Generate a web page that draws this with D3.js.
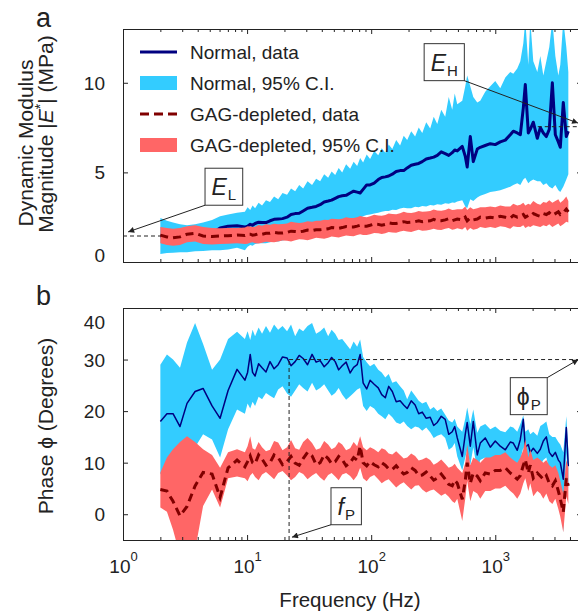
<!DOCTYPE html>
<html>
<head>
<meta charset="utf-8">
<script src="https://d3js.org/d3.v7.min.js"></script>
<style>
  body { margin: 0; background: #fff; }
  svg { display: block; }
</style>
</head>
<body>
<div id="chart"></div>
<script>
// frequency grid (Hz), shared by both panels
var freq = [2, 2.26, 2.53, 2.88, 3.28, 3.81, 4.42, 5.22, 6.06, 7.03,
  8.3, 9.6, 10.09, 10.6, 11.07, 11.6, 12.38, 13.2, 14.2, 15.3,
  16.5, 17.8, 19.3, 21, 22.6, 24.4, 26.3, 28.3, 30.7, 33.4,
  36, 38.8, 41.8, 45, 48, 51.3, 54.7, 58.4, 62.8, 67.7,
  72.2, 77.1, 81.5, 86.1, 92, 98, 105.7, 114, 121.6, 130,
  138.4, 148, 159.1, 171, 182.9, 195, 210.2, 226, 241.6, 258,
  277.7, 299, 319.2, 341, 367, 395, 421.7, 450, 471.3, 494,
  542, 573, 594, 629, 665, 716, 757, 830, 912, 1000,
  1097, 1205, 1321, 1397, 1504, 1592, 1683, 1746, 1846, 1915,
  2025, 2182, 2307, 2440, 2580, 2725, 2884, 3048, 3223, 3342,
  3533, 3737, 3880];

// panel a : |E*| (MPa)
var modNormal = [1.45, 1.4, 1.35, 1.3, 1.4, 1.45, 1.5, 1.6, 1.9, 2.0,
  2.02, 1.95, 2.0, 2.1, 2.05, 2.15, 2.22, 2.2, 2.2, 2.3,
  2.38, 2.4, 2.42, 2.5, 2.65, 2.7, 2.72, 2.85, 3.0, 3.05,
  3.1, 3.2, 3.35, 3.4, 3.45, 3.55, 3.65, 3.7, 3.72, 3.85,
  3.95, 3.9, 3.85, 4.05, 4.3, 4.3, 4.4, 4.6, 4.72, 4.75,
  4.8, 4.9, 5.05, 5.1, 5.1, 5.25, 5.4, 5.45, 5.5, 5.6,
  5.75, 5.8, 5.85, 5.95, 6.15, 6.05, 5.95, 6.1, 6.25, 6.2,
  6.45, 5.9, 5.3, 7.0, 5.6, 6.3, 6.4, 6.5, 6.6, 6.55,
  6.7, 6.8, 7.1, 7.3, 7.2, 7.1, 8.6, 9.9, 7.2, 7.4,
  7.8, 6.9, 7.5, 7.2, 7.0, 7.4, 10.0, 7.1, 6.7, 6.4,
  8.9, 7.0, 7.3];
var modNormalLo = [0.45, 0.5, 0.52, 0.55, 0.55, 0.6, 0.62, 0.65, 0.65, 0.7,
  0.8, 0.65, 0.85, 0.95, 0.9, 1.0, 1.05, 1.05, 1.05, 1.1,
  1.15, 1.15, 1.2, 1.25, 1.3, 1.4, 1.42, 1.5, 1.58, 1.6,
  1.7, 1.75, 1.8, 1.9, 1.95, 2.05, 2.15, 2.2, 2.25, 2.35,
  2.4, 2.45, 2.45, 2.55, 2.62, 2.65, 2.7, 2.75, 2.8, 2.85,
  2.85, 2.92, 2.9, 2.98, 3.02, 3.0, 3.0, 3.08, 3.05, 3.12,
  3.1, 3.18, 3.15, 3.22, 3.2, 3.28, 3.25, 3.32, 3.3, 3.38,
  3.45, 3.1, 3.0, 3.5, 3.4, 3.6, 3.7, 3.8, 3.9, 3.95,
  4.0, 4.1, 4.2, 4.3, 4.4, 4.3, 4.6, 4.7, 4.4, 4.5,
  4.6, 4.5, 4.5, 4.3, 4.4, 4.2, 4.1, 4.3, 4.0, 3.9,
  4.2, 4.6, 4.9];
var modNormalHi = [2.45, 2.3, 2.2, 2.1, 2.05, 2.1, 2.2, 2.35, 2.55, 2.65,
  2.75, 2.8, 3.05, 2.9, 3.15, 3.0, 3.3, 3.15, 3.45, 3.35,
  3.65, 3.5, 3.85, 3.75, 4.1, 3.95, 4.3, 4.1, 4.5, 4.3,
  4.65, 4.5, 4.9, 4.7, 5.05, 4.85, 5.25, 5.0, 5.45, 5.2,
  5.6, 5.35, 5.8, 5.55, 6.0, 5.75, 6.2, 5.95, 6.35, 6.1,
  6.55, 6.3, 6.8, 6.5, 7.05, 6.8, 7.3, 7.0, 7.5, 7.2,
  7.8, 7.45, 8.1, 7.7, 8.5, 8.1, 9.2, 8.5, 9.4, 8.8,
  9.0, 9.8, 10.4, 9.8, 9.2, 8.9, 9.0, 9.5, 9.8, 10.1,
  9.7, 10.3, 10.6, 10.5, 10.8, 11.2, 12.2, 13.5, 11.0, 13.5,
  11.2, 10.6, 11.5, 10.4, 11.2, 12.0, 13.5, 11.5, 10.4, 11.0,
  13.5, 12.0, 10.6];
var modGag = [1.5, 1.4, 1.35, 1.4, 1.55, 1.6, 1.45, 1.42, 1.45, 1.47,
  1.5, 1.48, 1.55, 1.55, 1.5, 1.52, 1.58, 1.55, 1.6, 1.6,
  1.65, 1.62, 1.62, 1.65, 1.72, 1.7, 1.68, 1.72, 1.78, 1.75,
  1.8, 1.8, 1.82, 1.85, 1.92, 1.9, 1.88, 1.92, 1.98, 1.95,
  1.95, 2.0, 2.05, 2.0, 2.0, 2.05, 2.12, 2.1, 2.05, 2.1,
  2.18, 2.15, 2.15, 2.2, 2.25, 2.2, 2.22, 2.25, 2.3, 2.25,
  2.28, 2.3, 2.38, 2.3, 2.3, 2.35, 2.42, 2.3, 2.35, 2.4,
  2.35, 2.5, 2.3, 2.45, 2.35, 2.4, 2.5, 2.45, 2.5, 2.45,
  2.55, 2.5, 2.45, 2.6, 2.5, 2.55, 2.65, 2.5, 2.6, 2.55,
  2.7, 2.6, 2.55, 2.7, 2.65, 2.75, 2.6, 2.7, 2.8, 2.65,
  2.75, 2.95, 2.8];
var modGagLo = [1.05, 0.95, 0.9, 0.95, 1.1, 1.15, 1.0, 0.98, 1.0, 1.02,
  1.05, 1.0, 1.02, 1.08, 1.1, 1.05, 1.03, 1.08, 1.13, 1.12,
  1.1, 1.15, 1.2, 1.18, 1.15, 1.22, 1.27, 1.25, 1.22, 1.28,
  1.35, 1.32, 1.3, 1.36, 1.42, 1.4, 1.37, 1.42, 1.48, 1.45,
  1.44, 1.5, 1.55, 1.5, 1.5, 1.55, 1.62, 1.6, 1.56, 1.6,
  1.68, 1.65, 1.63, 1.7, 1.75, 1.7, 1.68, 1.75, 1.8, 1.75,
  1.76, 1.8, 1.86, 1.8, 1.78, 1.85, 1.9, 1.8, 1.83, 1.88,
  1.82, 1.95, 1.75, 1.9, 1.8, 1.85, 1.95, 1.9, 1.95, 1.9,
  2.0, 1.95, 1.85, 2.0, 1.95, 1.95, 2.05, 1.9, 2.0, 1.95,
  2.05, 2.0, 1.95, 2.05, 2.0, 2.1, 1.95, 2.05, 2.15, 2.0,
  2.1, 2.25, 2.2];
var modGagHi = [1.95, 1.9, 1.85, 1.9, 2.0, 2.05, 1.95, 1.9, 1.88, 1.9,
  1.9, 1.92, 2.0, 1.98, 1.95, 1.97, 2.06, 2.02, 2.1, 2.08,
  2.14, 2.1, 2.12, 2.15, 2.24, 2.2, 2.18, 2.2, 2.28, 2.25,
  2.3, 2.3, 2.36, 2.35, 2.42, 2.4, 2.38, 2.42, 2.5, 2.45,
  2.46, 2.5, 2.56, 2.52, 2.5, 2.55, 2.64, 2.6, 2.58, 2.62,
  2.7, 2.68, 2.66, 2.72, 2.8, 2.75, 2.74, 2.78, 2.85, 2.8,
  2.82, 2.85, 2.93, 2.88, 2.86, 2.9, 2.98, 2.9, 2.92, 2.95,
  2.95, 3.1, 2.9, 3.05, 2.95, 3.0, 3.05, 3.05, 3.1, 3.05,
  3.15, 3.1, 3.1, 3.25, 3.15, 3.2, 3.3, 3.15, 3.25, 3.2,
  3.4, 3.25, 3.2, 3.35, 3.3, 3.45, 3.3, 3.4, 3.5, 3.3,
  3.45, 3.65, 3.4];

// panel b : phase (degrees)
var phaseNormal = [18.0, 19.5, 19.5, 17.0, 21.5, 23.8, 24.4, 21.0, 18.6, 24.0,
  28.1, 26.0, 27.5, 31.0, 27.5, 26.8, 29.2, 28.4, 27.6, 29.6,
  28.2, 29.0, 30.5, 30.3, 28.8, 29.6, 30.8, 30.2, 29.0, 31.0,
  29.5, 29.8, 28.6, 29.4, 30.4, 29.6, 28.0, 28.8, 29.5, 27.4,
  28.5, 29.0, 31.0, 25.5, 24.3, 26.0, 25.2, 24.5, 23.2, 22.6,
  24.8, 23.8, 21.8, 22.0, 21.2, 20.5, 22.0, 21.2, 19.5, 19.8,
  18.6, 18.8, 17.2, 17.8, 19.0, 18.4, 15.5, 16.0, 17.0, 14.8,
  11.2, 15.5, 17.8, 13.2, 18.0, 11.5, 13.8, 14.8, 13.0, 14.2,
  13.2, 12.5, 14.0, 13.8, 12.4, 14.5, 18.4, 13.0, 13.5, 12.0,
  12.8, 11.8, 12.6, 14.2, 15.0, 12.0, 11.2, 12.0, 10.5, 10.0,
  6.8, 16.8, 9.3];
var phaseNormalLo = [7.7, 9.5, 10.5, 11.5, 12.0, 13.0, 15.5, 14.5, 11.0, 16.5,
  20.3, 19.5, 21.5, 20.5, 21.8, 21.0, 22.8, 22.3, 23.5, 23.0,
  22.5, 24.2, 24.8, 23.4, 22.8, 24.0, 25.2, 24.5, 23.8, 25.5,
  24.0, 24.5, 25.2, 24.0, 23.0, 23.5, 24.5, 23.2, 22.2, 22.9,
  23.5, 24.2, 24.5, 21.0, 20.0, 21.0, 20.5, 19.5, 19.0, 18.4,
  19.5, 18.8, 17.8, 17.5, 18.0, 17.1, 16.5, 17.0, 16.8, 16.2,
  16.8, 15.9, 14.8, 15.2, 15.5, 14.8, 12.5, 13.0, 13.8, 11.2,
  8.5, 11.0, 12.5, 9.5, 13.0, 8.5, 10.5, 11.0, 10.0, 10.5,
  10.0, 9.5, 10.5, 10.0, 9.0, 10.5, 13.0, 10.0, 10.0, 9.0,
  9.5, 8.5, 9.5, 10.5, 11.0, 8.5, 8.0, 8.5, 7.0, 6.0,
  -3.5, 12.0, 5.0];
var phaseNormalHi = [29.0, 31.0, 30.0, 28.4, 33.3, 37.1, 33.0, 28.0, 30.0, 34.0,
  35.4, 34.0, 35.5, 33.8, 35.8, 34.5, 36.2, 35.0, 36.5, 35.2,
  36.8, 35.8, 36.5, 35.5, 36.8, 34.5, 36.0, 35.5, 36.5, 37.1,
  35.0, 35.5, 36.2, 34.5, 35.8, 35.0, 33.8, 34.0, 33.0, 32.0,
  33.5, 32.5, 33.9, 30.5, 29.5, 28.7, 29.2, 28.0, 27.5, 26.5,
  27.2, 25.5, 25.8, 24.8, 24.0, 22.3, 24.0, 23.0, 22.0, 21.5,
  21.8, 20.3, 20.8, 20.0, 20.5, 19.3, 18.2, 17.8, 18.5, 17.0,
  16.0, 18.5, 20.7, 17.5, 20.3, 15.8, 17.0, 17.5, 16.5, 17.0,
  16.2, 15.9, 17.0, 16.8, 16.0, 17.5, 19.2, 16.0, 16.5, 15.5,
  16.0, 15.2, 17.1, 17.5, 18.0, 15.5, 15.0, 15.0, 14.0, 13.5,
  12.0, 19.0, 12.5];
var phaseGag = [4.8, 4.5, 2.5, -0.3, 1.5, 5.5, 8.1, 7.8, 3.3, 9.0,
  10.5, 9.2, 10.2, 11.3, 10.0, 9.8, 11.5, 10.7, 9.5, 10.0,
  11.5, 11.0, 9.6, 10.2, 11.2, 9.9, 9.5, 10.8, 12.0, 11.3,
  9.6, 10.0, 11.5, 10.8, 9.8, 10.2, 11.2, 10.6, 9.4, 10.0,
  11.0, 10.5, 13.2, 10.0, 9.4, 10.2, 9.6, 9.2, 10.0, 9.5,
  8.8, 8.7, 9.4, 8.5, 7.8, 8.1, 9.0, 8.5, 7.5, 7.6,
  8.2, 7.4, 6.6, 7.0, 7.8, 6.8, 5.8, 5.5, 6.6, 6.0,
  2.9, 6.5, 10.0, 6.0, 8.0, 7.4, 6.5, 8.0, 7.8, 8.5,
  8.5, 9.0, 8.0, 7.5, 6.8, 7.5, 9.5, 10.6, 8.0, 9.5,
  7.0, 8.0, 7.4, 6.8, 7.5, 6.0, 5.5, 6.5, 4.5, 3.0,
  0.4, 7.0, 5.5];
var phaseGagLo = [1.3, 0.5, -3.0, -8.0, -10.0, -7.0, 1.6, 4.8, 1.3, 7.0,
  7.3, 7.0, 6.4, 7.5, 8.0, 7.2, 6.6, 7.7, 8.2, 7.5,
  6.8, 8.0, 8.4, 7.5, 6.6, 7.2, 8.2, 7.8, 6.8, 7.5,
  8.0, 7.1, 6.5, 7.6, 8.0, 7.3, 6.6, 7.7, 8.0, 7.4,
  6.6, 7.5, 9.0, 7.0, 6.4, 7.2, 7.6, 6.8, 6.0, 6.5,
  6.8, 6.0, 5.2, 5.8, 6.2, 5.5, 4.8, 5.5, 5.6, 4.8,
  4.2, 4.6, 4.8, 4.2, 3.6, 4.0, 3.4, 2.5, 2.2, 3.0,
  -1.3, 3.0, 6.5, 2.5, 4.5, 4.0, 3.0, 4.5, 4.5, 5.0,
  5.0, 5.5, 4.5, 4.0, 3.0, 4.0, 6.0, 7.0, 4.5, 6.0,
  3.5, 4.5, 4.0, 3.0, 4.0, 2.5, 2.0, 3.0, 1.0, -0.5,
  -3.5, 3.5, 2.0];
var phaseGagHi = [8.1, 11.0, 12.6, 14.0, 15.1, 14.0, 12.6, 11.5, 9.0, 12.0,
  12.6, 12.0, 13.2, 15.1, 12.8, 12.5, 14.0, 13.0, 12.2, 12.5,
  14.2, 13.9, 12.4, 13.0, 14.4, 12.8, 12.5, 14.0, 14.8, 13.8,
  12.5, 12.8, 14.2, 13.5, 12.6, 13.0, 14.0, 13.5, 12.4, 12.8,
  14.0, 13.2, 15.1, 13.0, 12.4, 13.0, 12.6, 12.0, 12.8, 12.5,
  11.8, 11.6, 12.2, 11.5, 10.8, 11.0, 11.8, 11.3, 10.4, 10.6,
  11.0, 10.5, 9.6, 10.0, 10.6, 9.8, 9.0, 9.3, 9.8, 9.0,
  8.0, 10.0, 13.5, 9.5, 11.0, 10.5, 10.0, 11.0, 11.0, 11.5,
  11.5, 12.0, 11.0, 10.5, 10.0, 11.0, 12.5, 14.5, 11.0, 12.5,
  10.5, 11.0, 10.5, 10.0, 10.5, 9.5, 9.0, 9.5, 8.0, 6.5,
  4.0, 10.5, 9.0];

var modTicks = [0, 5, 10];
var phaseTicks = [0, 10, 20, 30, 40];
var legendLabels = ["Normal, data", "Normal, 95% C.I.", "GAG-depleted, data", "GAG-depleted, 95% C.I."];

// characteristic values
var EL = 1.45, EH = 7.55, fP = 21.8, phiP = 30;

var navy = "#000080", ciBlue = "#33ccff", darkRed = "#800000", ciRed = "#ff6666", ink = "#222";

////////////////////////////////////////////////////////

var svg = d3.select("#chart").append("svg")
  .attr("width", 578).attr("height", 616)
  .style("font-family", '"Liberation Sans", Arial, sans-serif');

var left = 123, right = 582;
var x = d3.scaleLog().domain([1, 5000]).range([left, right]);
var yA = d3.scaleLinear().domain([0, 13]).range([262, 29]);
var yB = d3.scaleLinear().domain([-5, 40]).range([540, 308]);

function rows(m, lo, hi) {
  return freq.map(function(f, i) { return {f: f, m: m[i], lo: lo[i], hi: hi[i]}; });
}

var defs = svg.append("defs");
defs.append("marker").attr("id", "head")
  .attr("viewBox", "0 0 10 10").attr("refX", 10).attr("refY", 5)
  .attr("markerUnits", "userSpaceOnUse")
  .attr("markerWidth", 10).attr("markerHeight", 6).attr("orient", "auto")
  .append("path").attr("d", "M0,0L10,5L0,10z").attr("fill", ink);

function drawPanel(name, y, normal, gag, normalWidth) {
  var yb = y.range()[0], yt = y.range()[1];
  defs.append("clipPath").attr("id", "clip-" + name).append("rect")
    .attr("x", left).attr("y", yt).attr("width", right - left).attr("height", yb - yt);
  var plot = svg.append("g").attr("clip-path", "url(#clip-" + name + ")");

  var area = d3.area().x(function(d) { return x(d.f); })
    .y0(function(d) { return y(d.lo); }).y1(function(d) { return y(d.hi); });
  var line = d3.line().x(function(d) { return x(d.f); }).y(function(d) { return y(d.m); });

  plot.append("path").datum(normal).attr("d", area).attr("fill", ciBlue);
  plot.append("path").datum(normal).attr("d", line).attr("fill", "none")
    .attr("stroke", navy).attr("stroke-width", normalWidth).attr("stroke-linejoin", "round");
  plot.append("path").datum(gag).attr("d", area).attr("fill", ciRed);
  plot.append("path").datum(gag).attr("d", line).attr("fill", "none")
    .attr("stroke", darkRed).attr("stroke-width", 3).attr("stroke-dasharray", "8,5");
  return plot;
}

function styleAxis(g) {
  g.select(".domain").remove();
  g.attr("font-family", null).attr("font-size", 19);
  g.selectAll(".tick line").attr("stroke", ink);
  g.selectAll(".tick text").attr("fill", ink);
}

function drawAxes(y, yTicks, shifts) {
  var yb = y.range()[0], yt = y.range()[1];
  var all = x.ticks();
  var isMajor = function(t) { var l = Math.log10(t); return Math.abs(l - Math.round(l)) < 1e-9; };
  var majors = all.filter(isMajor), minors = all.filter(function(t) { return !isMajor(t); });

  [[d3.axisBottom, yb], [d3.axisTop, yt]].forEach(function(p) {
    svg.append("g").attr("transform", "translate(0," + p[1] + ")")
      .call(p[0](x).tickValues(minors).tickSizeInner(-3).tickSizeOuter(0).tickFormat(""))
      .call(styleAxis);
    svg.append("g").attr("transform", "translate(0," + p[1] + ")")
      .call(p[0](x).tickValues(majors).tickSizeInner(-5).tickSizeOuter(0).tickFormat(""))
      .call(styleAxis);
  });

  var ly = svg.append("g").attr("transform", "translate(" + left + ",0)")
    .call(d3.axisLeft(y).tickValues(yTicks).tickSizeInner(-5).tickSizeOuter(0).tickPadding(18))
    .call(styleAxis);
  ly.selectAll(".tick text").attr("dy", function(d) { return (shifts[d] || 0) + 6.5; });

  svg.append("g").attr("transform", "translate(" + right + ",0)")
    .call(d3.axisRight(y).tickValues(yTicks).tickSizeInner(-5).tickSizeOuter(0).tickFormat(""))
    .call(styleAxis);

  svg.append("rect").attr("x", left + 0.5).attr("y", yt + 0.5)
    .attr("width", right - left).attr("height", yb - yt)
    .attr("fill", "none").attr("stroke", ink).attr("stroke-width", 1);
  return majors;
}

function note(cx, cy, main, mainItalic, sub, from, tipX, tipY) {
  var g = svg.append("g");
  var t = g.append("text").attr("x", cx).attr("y", cy + 8.5)
    .attr("text-anchor", "middle").attr("font-size", 23).attr("fill", ink);
  t.append("tspan").attr("font-style", mainItalic ? "italic" : null).text(main);
  t.append("tspan").attr("font-size", 15).attr("dy", 5).attr("dx", 1).text(sub);
  var bb = t.node().getBBox();
  var w = bb.width + 13, h = 37;
  var bx = cx - w / 2, by = cy - h / 2;
  g.insert("rect", "text").attr("x", bx).attr("y", by).attr("width", w).attr("height", h)
    .attr("fill", "#fff").attr("stroke", "#333").attr("stroke-width", 1);
  var sx = from[0] === "l" ? bx : bx + w;
  var sy = from[1] === "t" ? by : by + h;
  g.append("line").attr("x1", sx).attr("y1", sy).attr("x2", tipX).attr("y2", tipY)
    .attr("stroke", ink).attr("stroke-width", 1).attr("marker-end", "url(#head)");
}

function dashed(g, x1, y1, x2, y2) {
  g.append("line").attr("x1", x1).attr("y1", y1).attr("x2", x2).attr("y2", y2)
    .attr("stroke", ink).attr("stroke-width", 1).attr("stroke-dasharray", "4,3");
}

//////////////////// panel a ////////////////////
var plotA = drawPanel("a", yA, rows(modNormal, modNormalLo, modNormalHi), rows(modGag, modGagLo, modGagHi), 3);
dashed(plotA, x(1), yA(EL), x(freq[0]), yA(EL));
dashed(plotA, x(2200), yA(EH), x(5000), yA(EH));
drawAxes(yA, modTicks, {0: -7});

// legend
var leg = svg.append("g").attr("font-size", 19).attr("fill", ink);
legendLabels.forEach(function(label, i) {
  var cy = 52 + 31 * i;
  if (i === 0) {
    leg.append("line").attr("x1", 140).attr("x2", 177).attr("y1", cy).attr("y2", cy)
      .attr("stroke", navy).attr("stroke-width", 3);
  } else if (i === 2) {
    leg.append("line").attr("x1", 140).attr("x2", 177).attr("y1", cy).attr("y2", cy)
      .attr("stroke", darkRed).attr("stroke-width", 3).attr("stroke-dasharray", "9,5");
  } else {
    leg.append("rect").attr("x", 140).attr("y", cy - 7).attr("width", 37).attr("height", 14)
      .attr("fill", i === 1 ? ciBlue : ciRed);
  }
  leg.append("text").attr("x", 190).attr("y", cy).attr("dy", "0.36em").text(label);
});

note(x(6.5), yA(4.2), "E", true, "L", "lb", x(1.1), yA(1.68));
note(x(388), yA(11.15), "E", true, "H", "rb", x(4650), yA(7.75));

//////////////////// panel b ////////////////////
var plotB = drawPanel("b", yB, rows(phaseNormal, phaseNormalLo, phaseNormalHi), rows(phaseGag, phaseGagLo, phaseGagHi), 1.5);
dashed(plotB, x(fP), yB(-5), x(fP), yB(phiP));
dashed(plotB, x(fP), yB(phiP), x(5000), yB(phiP));
var majors = drawAxes(yB, phaseTicks, {40: 14});

var xl = svg.append("g").attr("transform", "translate(0," + yB.range()[0] + ")")
  .call(d3.axisBottom(x).tickValues(majors).tickSize(0).tickFormat(""))
  .call(styleAxis);
xl.selectAll(".tick text").attr("y", 33).attr("dy", null).attr("font-size", 19)
  .each(function(d) {
    var t = d3.select(this);
    t.append("tspan").text("10");
    t.append("tspan").attr("dy", -12).attr("font-size", 13).text(Math.round(Math.log10(d)));
  });

note(x(62.9), yB(1.55), "f", true, "P", "lb", x(23), yB(-4.45));
note(x(1862), yB(22.9), "\u03d5", false, "P", "rt", x(4670), yB(30));

//////////////////// labels ////////////////////
svg.append("text").attr("x", 350).attr("y", 607).attr("text-anchor", "middle")
  .attr("font-size", 20.5).attr("fill", ink).text("Frequency (Hz)");

svg.append("text").attr("transform", "translate(33,143) rotate(-90)").attr("text-anchor", "middle")
  .attr("font-size", 21).attr("fill", ink).text("Dynamic Modulus");
var l2 = svg.append("text").attr("transform", "translate(53,134) rotate(-90)").attr("text-anchor", "middle")
  .attr("font-size", 21).attr("fill", ink);
l2.append("tspan").text("Magnitude |");
l2.append("tspan").attr("font-style", "italic").text("E");
l2.append("tspan").attr("font-size", 14).attr("dy", -8).text("*");
l2.append("tspan").attr("dy", 8).text("| (MPa)");

svg.append("text").attr("transform", "translate(53,426) rotate(-90)").attr("text-anchor", "middle")
  .attr("font-size", 21).attr("fill", ink).text("Phase \u03d5 (Degrees)");

svg.append("text").attr("x", 36).attr("y", 27).attr("font-size", 27).attr("fill", ink).text("a");
svg.append("text").attr("x", 36).attr("y", 305).attr("font-size", 27).attr("fill", ink).text("b");
</script>
</body>
</html>
